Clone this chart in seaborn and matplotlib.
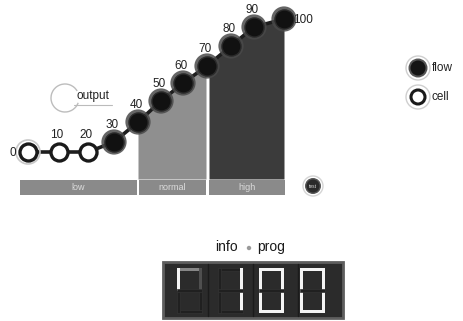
import matplotlib
matplotlib.use("Agg")
import matplotlib.pyplot as plt
import seaborn as sns
import pandas as pd
from matplotlib.patches import Circle, Rectangle, Arc

sns.set_theme(style="white")
plt.rcParams['font.family'] = ['Liberation Sans', 'DejaVu Sans']

# ---- data ----
levels = [0, 10, 20, 30, 40, 50, 60, 70, 80, 90, 100]
pos_x = [28, 59, 88, 114, 138, 161, 183, 207, 231, 254, 284]
pos_y = [152, 152, 152, 142, 122, 101, 83, 66, 46, 27, 19]
active = [False, False, False, True, True, True, True, True, True, True, True]
zones = ["low", "normal", "high"]
zone_start = [20, 139, 209]
zone_end = [137, 206, 285]
legend_labels = ["flow", "cell"]
display_label = ["info", "prog"]
# seven-seg states per digit: segments a,b,c,d,e,f,g -> 0 dim, 1 lit, fraction = partly lit
digits = [
    [0.6, 0.2, 0, 0, 0, 1, 0],
    [0, 1, 1, 0, 0, 0, 0],
    [1, 1, 1, 1, 1, 1, 0],
    [1, 1, 1, 1, 1, 1, 0],
]

df = pd.DataFrame({"level": levels, "x": pos_x, "y": pos_y, "active": active})

fig = plt.figure(figsize=(4.64, 3.21), dpi=100)
ax = fig.add_axes([0, 0, 1, 1])

base = 179
# area fills
nm = df[(df.x >= 138) & (df.x <= 206)]
ax.fill_between(list(nm.x) + [206], list(nm.y) + [67], base, color="#8f8f8f", lw=0, zorder=1)
hi = df[df.x >= 208]
ax.fill_between([209] + list(hi.x), [65] + list(hi.y), base, color="#3b3b3b", lw=0, zorder=1)

# line
sns.lineplot(data=df, x="x", y="y", ax=ax, color="#1e1e1e", lw=2.6, zorder=3, sort=False)
ax.set_xlim(0, 464)
ax.set_ylim(321, 0)
ax.axis("off")

act = df[df.active]
ina = df[~df.active]
# halos
sns.scatterplot(data=act, x="x", y="y", ax=ax, s=330, color="#4a4a4a", edgecolor="none", alpha=0.85, zorder=4, legend=False)
sns.scatterplot(data=act, x="x", y="y", ax=ax, s=190, color="#111111", edgecolor="#2a2a2a", linewidth=1, zorder=5, legend=False)
sns.scatterplot(data=ina, x="x", y="y", ax=ax, s=150, color="white", edgecolor="#1a1a1a", linewidth=2.4, zorder=5, legend=False)
# extra ring at 0
ax.add_patch(Circle((pos_x[0], pos_y[0]), 12, fill=False, ec="#c8c8c8", lw=1.2, zorder=4))

# value labels
for lv, x, y in zip(levels, pos_x, pos_y):
    if lv == 0:
        ax.text(x - 15, y + 1, str(lv), ha="center", va="center", fontsize=8.5, color="#222", zorder=6)
    elif lv == 100:
        ax.text(x + 19, y + 1, str(lv), ha="center", va="center", fontsize=8.5, color="#222", zorder=6)
    else:
        ax.text(x - 2, y - 17, str(lv), ha="center", va="center", fontsize=8.5, color="#222", zorder=6)

# zone bars
for name, s, e in zip(zones, zone_start, zone_end):
    ax.add_patch(Rectangle((s, 180), e - s, 15, color="#8a8a8a", lw=0, zorder=2))
    ax.text((s + e) / 2, 187.5, name, ha="center", va="center", fontsize=6.5, color="#dcdcdc", zorder=3)

# output widget
ax.add_patch(Arc((65, 98), 28, 28, theta1=20, theta2=330, ec="#bdbdbd", lw=1.0, zorder=2))
ax.text(93, 96, "output", ha="center", va="center", fontsize=8.5, color="#222", zorder=3)
ax.plot([74, 112], [105, 105], color="#bbbbbb", lw=0.8, zorder=3)

# legend
for i, lab in enumerate(legend_labels):
    cy = 68 + 29 * i
    ax.add_patch(Circle((418, cy), 12, fill=False, ec="#cfcfcf", lw=1.0, zorder=2))
    if i == 0:
        ax.add_patch(Circle((418, cy), 9.5, color="#555555", lw=0, zorder=3))
        ax.add_patch(Circle((418, cy), 7.5, color="#151515", lw=0, zorder=4))
    else:
        ax.add_patch(Circle((418, cy), 7, fc="white", ec="#1a1a1a", lw=2.2, zorder=4))
    ax.text(432, cy, lab, ha="left", va="center", fontsize=8.5, color="#222")

# test button
ax.add_patch(Circle((313, 186), 10, fill=False, ec="#d5d5d5", lw=1.0, zorder=2))
ax.add_patch(Circle((313, 186), 8, color="#555555", lw=0, zorder=3))
ax.add_patch(Circle((313, 186), 6.5, color="#2a2a2a", lw=0, zorder=4))
ax.text(313, 186.5, "test", ha="center", va="center", fontsize=3.5, color="#dddddd", zorder=5)

# display header
ax.text(226, 247, display_label[0], ha="center", va="center", fontsize=10, color="#1a1a1a")
ax.add_patch(Circle((249, 248), 2.2, color="#9a9a9a", lw=0))
ax.text(271, 247, display_label[1], ha="center", va="center", fontsize=10, color="#1a1a1a")

# display box
ax.add_patch(Rectangle((163, 262), 180, 56, fc="#2b2b2b", ec="#5e5e5e", lw=2.0, zorder=1))
for k in range(1, 4):
    ax.plot([163 + 45 * k, 163 + 45 * k], [264, 316], color="#1b1b1b", lw=1.0, zorder=2)

def seg_rects(x0, y0, w=25, h=45, t=3):
    hh = h / 2
    return [
        (x0, y0, w, t),                 # a
        (x0 + w - t, y0, t, hh),        # b
        (x0 + w - t, y0 + hh, t, hh),   # c
        (x0, y0 + h - t, w, t),         # d
        (x0, y0 + hh, t, hh),           # e
        (x0, y0, t, hh),                # f
        (x0, y0 + hh - t / 2, w, t),    # g
    ]

for d, states in enumerate(digits):
    x0 = 177 + 41 * d
    for (rx, ry, rw, rh), st in zip(seg_rects(x0, 268), states):
        if st >= 1:
            col = "#f4f4f4"
        elif st > 0:
            c = 0.2 + 0.55 * st
            col = (c, c, c)
        else:
            col = "#202020"
        ax.add_patch(Rectangle((rx, ry), rw, rh, fc=col,
                               ec="#333333" if st == 0 else "none", lw=0.5, zorder=3))

fig.savefig("out.png", dpi=100, facecolor="white")
